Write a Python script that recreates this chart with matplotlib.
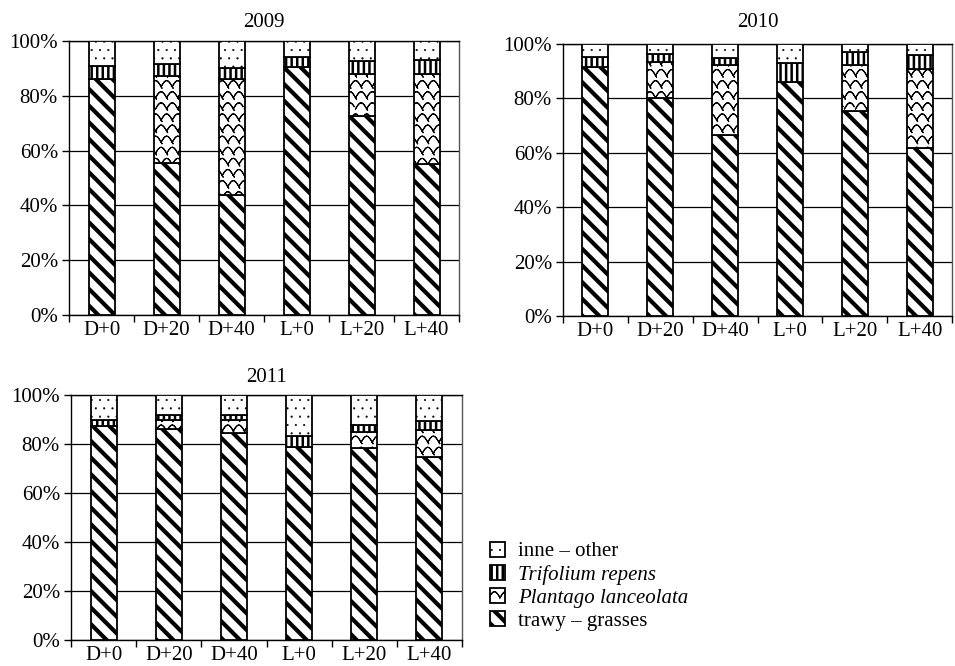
import matplotlib
matplotlib.use("Agg")
import matplotlib.pyplot as plt
import matplotlib.hatch as mhatch
from matplotlib.path import Path
import numpy as np
import warnings

warnings.filterwarnings("ignore")

categories = ["D+0", "D+20", "D+40", "L+0", "L+20", "L+40"]
years = ["2009", "2010", "2011"]

# percent shares per year: grasses, Plantago, Trifolium, other
grasses = {
    "2009": [86.1, 55.6, 43.8, 90.6, 72.7, 55.1],
    "2010": [91.4, 80.3, 66.5, 86.2, 75.2, 61.6],
    "2011": [87.5, 86.2, 84.6, 78.6, 78.2, 74.8],
}
plantago = {
    "2009": [0.0, 31.6, 42.2, 0.0, 15.3, 32.9],
    "2010": [0.0, 13.0, 25.9, 0.0, 17.2, 29.3],
    "2011": [0.0, 3.4, 5.0, 0.0, 6.9, 11.0],
}
trifolium = {
    "2009": [4.8, 4.3, 4.0, 3.4, 4.8, 5.1],
    "2010": [3.7, 3.0, 2.6, 6.8, 4.7, 5.2],
    "2011": [2.4, 2.2, 2.3, 4.5, 2.8, 3.6],
}
other = {
    "2009": [9.1, 8.5, 10.0, 6.0, 7.2, 6.9],
    "2010": [4.9, 3.7, 5.0, 7.0, 2.9, 3.9],
    "2011": [10.1, 8.2, 8.1, 16.9, 12.1, 10.6],
}

series_labels = ["trawy – grasses", "Plantago lanceolata", "Trifolium repens", "inne – other"]


# custom scalloped hatch ("~") to imitate the wavy Plantago pattern
class ScallopHatch(mhatch.HatchPatternBase):
    SEG = 8

    def __init__(self, hatch, density):
        self.num_rows = int(hatch.count("~") * density * 1.5)
        per_arc = 2 * (self.SEG + 1)
        self.num_vertices = self.num_rows * (self.num_rows + 1) * per_arc

    def set_vertices_and_codes(self, vertices, codes):
        n = self.num_rows
        k = 0
        step = 1.0 / n
        t = np.linspace(0, 1, self.SEG + 1)
        for j in range(n):
            yc = (j + 0.2) * step
            off = 0.5 * step if j % 2 else 0.0
            for i in range(n + 1):
                x0 = i * step - off
                xs = x0 + t * step
                ys = yc + 0.55 * step * np.sin(np.pi * t)
                xs = np.concatenate([xs, xs[::-1]])
                ys = np.concatenate([ys, ys[::-1]])
                m = len(xs)
                vertices[k:k + m, 0] = xs
                vertices[k:k + m, 1] = ys
                codes[k] = Path.MOVETO
                codes[k + 1:k + m] = Path.LINETO
                k += m


if ScallopHatch not in mhatch._hatch_types:
    mhatch._hatch_types.append(ScallopHatch)

hatches = ["\\\\", "~", "|||", ".."]
hatch_lw = [3.0, 0.8, 1.8, 0.3]

plt.rcParams["font.family"] = ["Liberation Serif", "DejaVu Serif"]
plt.rcParams["font.size"] = 15

fig = plt.figure(figsize=(9.55, 6.66), dpi=100)
W, H = 955.0, 666.0
boxes = {
    "2009": (69, 41, 459, 315),
    "2010": (563, 44, 952, 316),
    "2011": (71, 395, 462, 640),
}
title_pad = {"2009": 10, "2010": 12, "2011": 9}

handles = {}
for yr in years:
    l, t, r, b = boxes[yr]
    ax = fig.add_axes([l / W, (H - b) / H, (r - l) / W, (b - t) / H])
    x = np.arange(len(categories))
    bottom = np.zeros(len(categories))
    data = [grasses[yr], plantago[yr], trifolium[yr], other[yr]]
    for i, vals in enumerate(data):
        vals = np.array(vals)
        plt.rcParams["hatch.linewidth"] = hatch_lw[i]
        bars = ax.bar(x, vals, bottom=bottom, width=0.4, color="white",
                      edgecolor="black", linewidth=1.3, hatch=hatches[i],
                      zorder=3)
        for p in bars:
            if hasattr(p, "set_hatch_linewidth"):
                p.set_hatch_linewidth(hatch_lw[i])
        handles[i] = bars
        bottom = bottom + vals
    ax.set_xlim(-0.5, len(categories) - 0.5)
    ax.set_ylim(0, 100)
    ax.set_yticks(np.arange(0, 101, 20))
    ax.set_yticklabels([f"{v}%" for v in range(0, 101, 20)])
    ax.yaxis.grid(True, color="black", linewidth=0.9, zorder=0)
    ax.set_axisbelow(True)
    ax.set_xticks(x)
    ax.set_xticklabels(categories)
    ax.tick_params(axis="x", length=0, pad=4)
    ax.set_xticks(np.arange(-0.5, len(categories), 1.0), minor=True)
    ax.tick_params(axis="x", which="minor", length=5, width=1.0, direction="out")
    ax.tick_params(axis="y", length=5, width=1.0, direction="out", pad=3)
    for s in ax.spines.values():
        s.set_linewidth(1.0)
        s.set_color("black")
    ax.spines["right"].set_color("#555555")
    ax.set_title(yr, fontsize=15, pad=title_pad[yr])

order = [3, 2, 1, 0]
leg = fig.legend([handles[i][0] for i in order], [series_labels[i] for i in order],
                 loc="upper left", bbox_to_anchor=(475 / W, (H - 527) / H),
                 frameon=False, fontsize=15, handlelength=0.75, handleheight=0.75,
                 handletextpad=0.6, labelspacing=0.15, borderpad=0.2)
leg.get_texts()[1].set_fontstyle("italic")
leg.get_texts()[2].set_fontstyle("italic")
for p, i in zip(leg.get_patches(), order):
    if hasattr(p, "set_hatch_linewidth"):
        p.set_hatch_linewidth(hatch_lw[i])

fig.savefig("out.png", dpi=100)
